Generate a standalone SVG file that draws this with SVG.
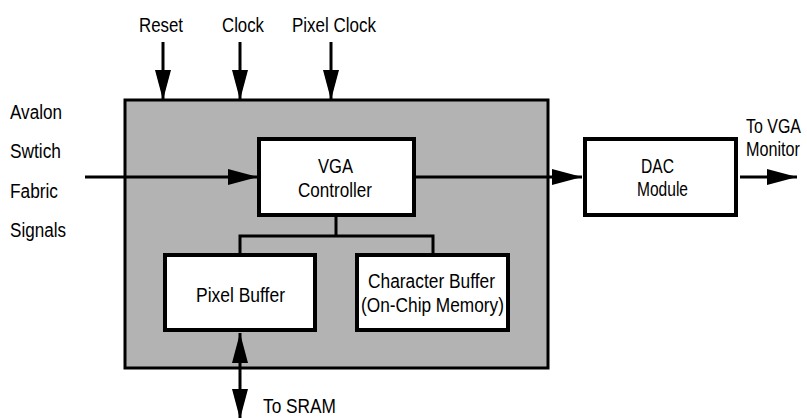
<svg xmlns="http://www.w3.org/2000/svg" width="807" height="418" viewBox="0 0 807 418">
<style>
text{font-family:"Liberation Sans",Arial,sans-serif;font-size:20px;fill:#000}
.box{fill:#fff;stroke:#000;stroke-width:4}
.ln{fill:none;stroke:#000;stroke-width:3}
</style>
<defs>
<marker id="ah" viewBox="0 0 30 16" refX="30" refY="8" markerWidth="30" markerHeight="16" markerUnits="userSpaceOnUse" orient="auto-start-reverse">
<path d="M0,0 L30,8 L0,16 Z" fill="#000"/>
</marker>
</defs>
<g id="system">
<rect x="125" y="100" width="423" height="268" fill="#b3b3b3" stroke="#000" stroke-width="3"/>
</g>
<g id="connectors">
<line class="ln" x1="163" y1="42" x2="163" y2="100" marker-end="url(#ah)"/>
<line class="ln" x1="240" y1="42" x2="240" y2="100" marker-end="url(#ah)"/>
<line class="ln" x1="331" y1="42" x2="331" y2="100" marker-end="url(#ah)"/>
<line class="ln" x1="85" y1="177" x2="258" y2="177" marker-end="url(#ah)"/>
<line class="ln" x1="416" y1="177" x2="582" y2="177" marker-end="url(#ah)"/>
<line class="ln" x1="740" y1="177" x2="797" y2="177" marker-end="url(#ah)"/>
<polyline class="ln" points="336,216 336,236"/>
<polyline class="ln" points="240,253 240,236 433,236 433,253"/>
<line class="ln" x1="240" y1="333" x2="240" y2="419" marker-start="url(#ah)" marker-end="url(#ah)"/>
</g>
<g id="vga-controller">
<rect class="box" x="259" y="139" width="155" height="76"/>
<text x="318" y="173" textLength="35" lengthAdjust="spacingAndGlyphs">VGA</text>
<text x="298" y="197" textLength="74" lengthAdjust="spacingAndGlyphs">Controller</text>
</g>
<g id="dac-module">
<rect class="box" x="585" y="139" width="151" height="76"/>
<text x="641" y="173" textLength="33" lengthAdjust="spacingAndGlyphs">DAC</text>
<text x="637" y="196" textLength="51" lengthAdjust="spacingAndGlyphs">Module</text>
</g>
<g id="pixel-buffer">
<rect class="box" x="165" y="255" width="150" height="75"/>
<text x="196" y="302" textLength="89" lengthAdjust="spacingAndGlyphs">Pixel Buffer</text>
</g>
<g id="character-buffer">
<rect class="box" x="357" y="255" width="151" height="75"/>
<text x="368" y="288" textLength="127" lengthAdjust="spacingAndGlyphs">Character Buffer</text>
<text x="361" y="312" textLength="143" lengthAdjust="spacingAndGlyphs">(On-Chip Memory)</text>
</g>
<g id="labels">
<text x="139" y="32" textLength="44" lengthAdjust="spacingAndGlyphs">Reset</text>
<text x="222" y="32" textLength="42" lengthAdjust="spacingAndGlyphs">Clock</text>
<text x="292" y="32" textLength="84" lengthAdjust="spacingAndGlyphs">Pixel Clock</text>
<text x="10" y="119" textLength="52" lengthAdjust="spacingAndGlyphs">Avalon</text>
<text x="10" y="158" textLength="51" lengthAdjust="spacingAndGlyphs">Swtich</text>
<text x="10" y="198" textLength="48" lengthAdjust="spacingAndGlyphs">Fabric</text>
<text x="10" y="237" textLength="56" lengthAdjust="spacingAndGlyphs">Signals</text>
<text x="746" y="133" textLength="55" lengthAdjust="spacingAndGlyphs">To VGA</text>
<text x="746" y="156" textLength="54" lengthAdjust="spacingAndGlyphs">Monitor</text>
<text x="263" y="413" textLength="73" lengthAdjust="spacingAndGlyphs">To SRAM</text>
</g>
</svg>
